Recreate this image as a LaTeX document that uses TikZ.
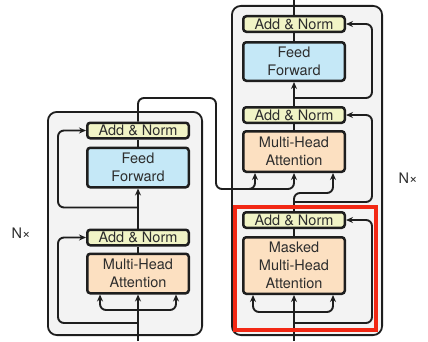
\documentclass[tikz,border=0pt]{standalone}
\usepackage{fontspec}
\setmainfont{TeX Gyre Heros}
\definecolor{normfill}{RGB}{241,244,198}
\definecolor{ffnfill}{RGB}{197,232,247}
\definecolor{attnfill}{RGB}{252,224,193}
\definecolor{stackgray}{RGB}{243,243,243}
\definecolor{edgedark}{RGB}{30,30,30}
\definecolor{textdark}{RGB}{45,45,45}
\definecolor{markred}{RGB}{242,40,20}
\usepackage{tikz}
\usetikzlibrary{arrows.meta,positioning}

\begin{document}
\begin{tikzpicture}[x=1pt, y=1pt, >={Stealth[length=7pt,width=6pt]},
    block/.style={draw=edgedark, line width=2.5pt, rounded corners=3pt, minimum width=101.5pt,
      inner sep=0pt, align=center, text=textdark, font=\fontsize{14.5}{18}\selectfont},
    link/.style={draw=edgedark, line width=1.9pt},
    flow/.style={link, ->, rounded corners=6pt},
    stack/.style={fill=stackgray, draw=edgedark, line width=1.8pt, rounded corners=9pt},
    repeatlbl/.style={text=textdark, font=\fontsize{14.5}{18}\selectfont}]
        \useasboundingbox (0,0) rectangle (428,341);

        % the two stacks
        \draw[stack] (47.9,5.9) rectangle (202.1,229.1);
        \draw[stack] (231.9,5.9) rectangle (382.1,335.1);

        % encoder layer
        \node (encMHA) [block, fill=attnfill, minimum height=39.5pt] at (138,67.5) {Multi-Head\\Attention};
        \node (encAN1) [block, fill=normfill, minimum height=15.5pt, above=6pt of encMHA] {Add \& Norm};
        \node (encFF) [block, fill=ffnfill, minimum height=39.5pt, above=40pt of encAN1] {Feed\\Forward};
        \node (encAN2) [block, fill=normfill, minimum height=15.5pt, above=7pt of encFF] {Add \& Norm};

        % decoder layer
        \node (decMMHA) [block, fill=attnfill, minimum height=56.5pt] at (294,75.5) {Masked\\Multi-Head\\Attention};
        \node (decAN1) [block, fill=normfill, minimum height=15.5pt, above=7pt of decMMHA] {Add \& Norm};
        \node (decMHA) [block, fill=attnfill, minimum height=40.5pt, above=38pt of decAN1] {Multi-Head\\Attention};
        \node (decAN2) [block, fill=normfill, minimum height=15.5pt, above=6pt of decMHA] {Add \& Norm};
        \node (decFF) [block, fill=ffnfill, minimum height=38.5pt, above=24pt of decAN2] {Feed\\Forward};
        \node (decAN3) [block, fill=normfill, minimum height=15.5pt, above=8pt of decFF] {Add \& Norm};

        \node (encN) [repeatlbl] at (21,108) {N×};
        \node (decN) [repeatlbl] at (408,163) {N×};

        \coordinate (encIn) at (138,0);
        \coordinate (encSplit) at (138,31);
        \coordinate (encSkip) at (138,18);
        \coordinate (memTop) at (216,243);
        \coordinate (memDrop) at (216,152);
        \coordinate (memSplit) at (236,152);
        \coordinate (decIn) at (294,0);
        \coordinate (decSplit) at (294,29);
        \coordinate (decSkip) at (294,18);
        \coordinate (qTurn) at (294,148);
        \coordinate (decOut) at (294,341);

        % encoder connectors
        \draw[flow] (encIn) -- (encMHA.south);
        \draw[flow] (encSplit) -| ([xshift=14pt]encMHA.south west);
        \draw[flow] (encSplit) -| ([xshift=-14pt]encMHA.south east);
        \draw[flow] (encSkip) -| ([xshift=-28pt]encAN1.west) -- (encAN1.west);
        \draw[link] (encMHA.north) -- (encAN1.south);
        \draw[flow] (encAN1.north) -- (encFF.south);
        \draw[flow] ([yshift=21pt]encAN1.north) -| ([xshift=-28pt]encAN2.west) -- (encAN2.west);
        \draw[link] (encFF.north) -- (encAN2.south);
        \draw[flow] (encAN2.north) |- (memTop) -- (memDrop) -| (decMHA.south);
        \draw[flow] (memSplit) -| ([xshift=13pt]decMHA.south west);

        % decoder connectors
        \draw[flow] (decIn) -- (decMMHA.south);
        \draw[flow] (decSplit) -| ([xshift=11pt]decMMHA.south west);
        \draw[flow] (decSplit) -| ([xshift=-13pt]decMMHA.south east);
        \draw[flow] (decSkip) -| ([xshift=26pt]decAN1.east) -- (decAN1.east);
        \draw[link] (decMMHA.north) -- (decAN1.south);
        \draw[flow] (decAN1.north) -- (qTurn) -| ([xshift=-13pt]decMHA.south east);
        \draw[flow] ([yshift=9pt]decAN1.north) -| ([xshift=26pt]decAN2.east) -- (decAN2.east);
        \draw[link] (decMHA.north) -- (decAN2.south);
        \draw[flow] (decAN2.north) -- (decFF.south);
        \draw[flow] ([yshift=8pt]decAN2.north) -| ([xshift=26pt]decAN3.east) -- (decAN3.east);
        \draw[link] (decFF.north) -- (decAN3.south);
        \draw[link] (decAN3.north) -- (decOut);

        % highlight
        \draw[markred, line width=3.6pt] (234.8,10.8) rectangle (376.2,134.2);
\end{tikzpicture}
\end{document}
